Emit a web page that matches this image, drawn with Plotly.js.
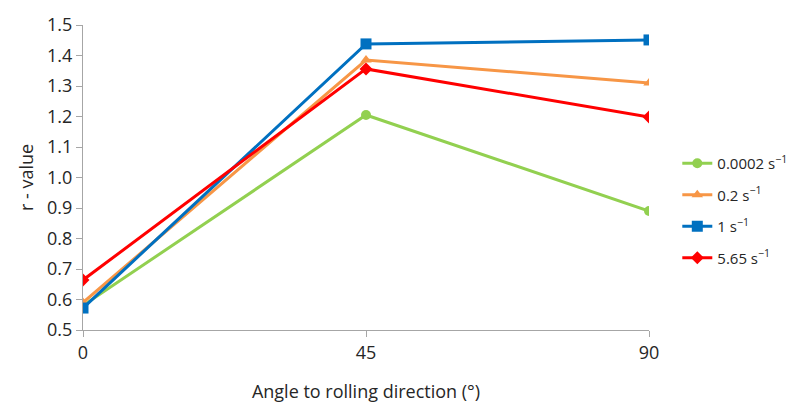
<!DOCTYPE html>
<html>
<head>
<meta charset="utf-8">
<script src="https://cdn.plot.ly/plotly-3.0.1.min.js"></script>
<style>body{margin:0;padding:0;background:#fff;} #chart{width:806px;height:403px;}</style>
</head>
<body>
<div id="chart"></div>
<script>
const angles = [0, 45, 90];
const rate00002 = [0.58, 1.205, 0.89];
const rate02 = [0.59, 1.385, 1.31];
const rate1 = [0.572, 1.438, 1.451];
const rate565 = [0.664, 1.356, 1.198];
const seriesNames = ["0.0002 s<sup>−1</sup>", "0.2 s<sup>−1</sup>", "1 s<sup>−1</sup>", "5.65 s<sup>−1</sup>"];
const yTicks = [0.5,0.6,0.7,0.8,0.9,1.0,1.1,1.2,1.3,1.4,1.5];

const colors = ["#92d050", "#f79646", "#0070c0", "#ff0000"];
const symbols = ["circle", "triangle-up", "square", "diamond"];
const sizes = [10, 10, 11, 10];
const data = [rate00002, rate02, rate1, rate565].map((v, i) => ({
  x: angles, y: v, type: "scatter", mode: "lines+markers",
  name: seriesNames[i], legendgroup: "g" + i,
  line: {color: colors[i], width: 3},
  marker: {color: colors[i], symbol: symbols[i], size: sizes[i]}
}));

const layout = {
  width: 806, height: 403,
  margin: {l: 83, r: 157, t: 25, b: 73},
  paper_bgcolor: "#fff", plot_bgcolor: "#fff",
  font: {family: "Open Sans, sans-serif", size: 18, color: "#262626"},
  showlegend: true,
  legend: {x: 1.05, xanchor: "left", y: 0.60, yanchor: "top", tracegroupgap: 9,
           itemwidth: 30, font: {size: 15}, bgcolor: "rgba(0,0,0,0)"},
  xaxis: {range: [0, 90], tickvals: angles, ticktext: angles.map(String),
          showgrid: false, zeroline: false, showline: true, linecolor: "#a6a6a6", linewidth: 1,
          ticks: "outside", ticklen: 6, tickcolor: "#a6a6a6",
          title: {text: "Angle to rolling direction (°)", font: {size: 18}, standoff: 22}},
  yaxis: {range: [0.5, 1.5], tickvals: yTicks, ticktext: yTicks.map(v => v.toFixed(1)),
          showgrid: false, zeroline: false, showline: true, linecolor: "#a6a6a6", linewidth: 1,
          ticks: "outside", ticklen: 6, tickcolor: "#a6a6a6",
          title: {text: "r - value", font: {size: 18}, standoff: 8}}
};
Plotly.newPlot("chart", data, layout, {displayModeBar: false});
</script>
</body>
</html>
